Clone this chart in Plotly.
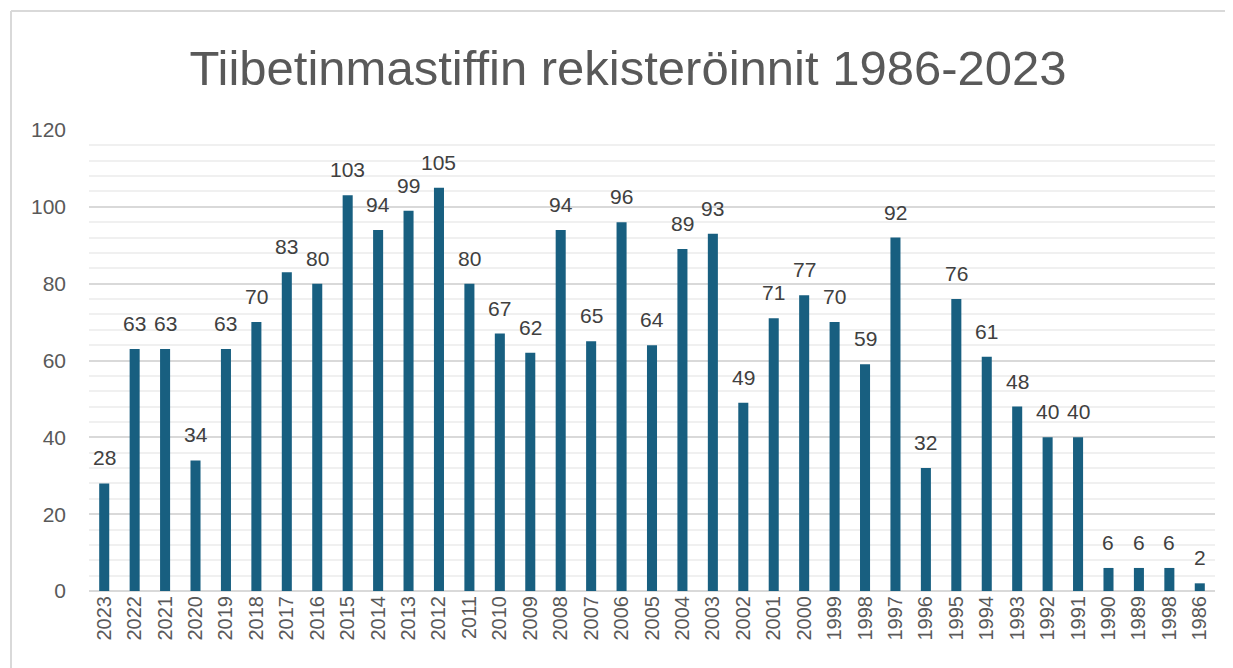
import plotly.graph_objects as go

years = ["2023", "2022", "2021", "2020", "2019", "2018", "2017", "2016", "2015", "2014",
         "2013", "2012", "2011", "2010", "2009", "2008", "2007", "2006", "2005", "2004",
         "2003", "2002", "2001", "2000", "1999", "1998", "1997", "1996", "1995", "1994",
         "1993", "1992", "1991", "1990", "1989", "1998", "1986"]
registrations = [28, 63, 63, 34, 63, 70, 83, 80, 103, 94,
                 99, 105, 80, 67, 62, 94, 65, 96, 64, 89,
                 93, 49, 71, 77, 70, 59, 92, 32, 76, 61,
                 48, 40, 40, 6, 6, 6, 2]
title_text = "Tiibetinmastiffin rekisteröinnit 1986-2023"

positions = list(range(len(years)))

# page offset of the figure inside the browser (body margin)
OFF = 8
W, H = 1233, 668
L, R, T, B = 89 - OFF, 18 + OFF, 130 - OFF, 77 + OFF
pw, ph = W - L - R, H - T - B

fig = go.Figure(go.Bar(
    x=positions, y=registrations,
    marker=dict(color="#185F80", line=dict(width=0)),
    cliponaxis=False,
    width=0.33,
))

for xp, v in zip(positions, registrations):
    fig.add_annotation(x=xp, y=v, text=str(v), showarrow=False,
                       xanchor="center", yanchor="bottom", yshift=12,
                       font=dict(family="Liberation Sans, Arial, sans-serif", size=21, color="#404040"))

def px_x(p):
    return (p - OFF - L) / pw

def px_y(p):
    return (H - B - (p - OFF)) / ph

frame_color = "#d9d9d9"
fig.add_shape(type="line", xref="paper", yref="paper",
              x0=px_x(11), x1=px_x(11), y0=px_y(11), y1=px_y(680),
              line=dict(color=frame_color, width=2))
fig.add_shape(type="line", xref="paper", yref="paper",
              x0=px_x(11), x1=px_x(1240), y0=px_y(11), y1=px_y(11),
              line=dict(color=frame_color, width=2))

fig.update_layout(
    width=W, height=H,
    margin=dict(l=L, r=R, t=T, b=B),
    paper_bgcolor="white", plot_bgcolor="white",
    showlegend=False,
    title=dict(text=title_text, x=(628 - OFF) / W, xanchor="center", y=1 - (68 - OFF) / H, yanchor="middle",
               font=dict(family="Liberation Sans, Arial, sans-serif",
                         size=49, color="#595959")),
    xaxis=dict(
        tickmode="array", tickvals=positions, ticktext=years,
        tickangle=-90, range=[-0.5, len(years) - 0.5],
        tickfont=dict(family="Liberation Sans, Arial, sans-serif", size=20, color="#595959"),
        showgrid=False, zeroline=False, showline=False, ticks="",
    ),
    yaxis=dict(
        range=[0, 120], dtick=20, tick0=0,
        tickfont=dict(family="Liberation Sans, Arial, sans-serif", size=21, color="#595959"),
        gridcolor="#d9d9d9", gridwidth=1.5,
        zeroline=True, zerolinecolor="#d9d9d9", zerolinewidth=2,
        showline=False, ticks="", ticklabelstandoff=22,
        minor=dict(dtick=4, tick0=0, showgrid=True, gridcolor="#f0f0f0", gridwidth=1.5),
    ),
)

fig.write_html("out.html")
